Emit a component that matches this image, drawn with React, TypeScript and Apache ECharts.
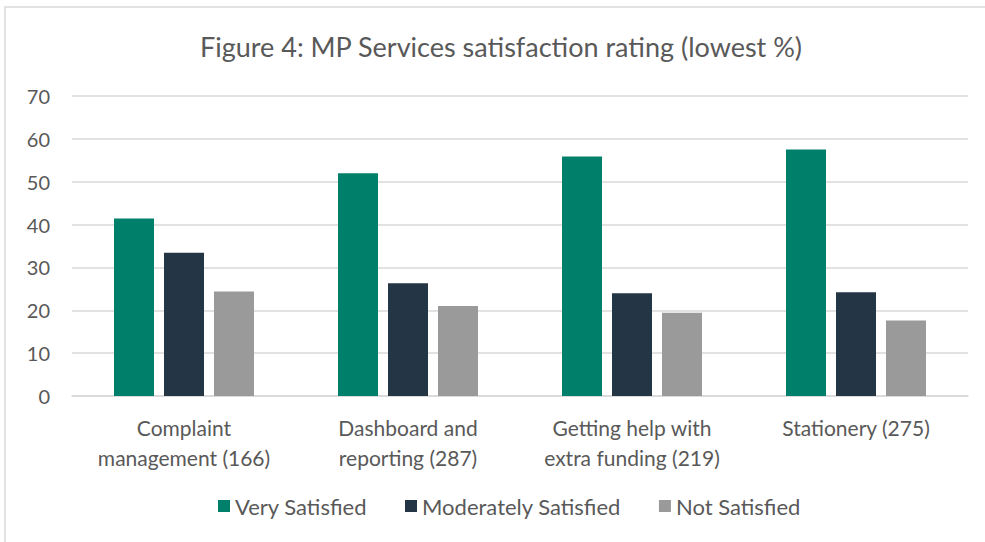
import React, { useEffect, useRef } from "react";
import * as echarts from "echarts";

const categories = ["Complaint\nmanagement (166)", "Dashboard and\nreporting (287)", "Getting help with\nextra funding (219)", "Stationery (275)"];
const seriesNames = ["Very Satisfied", "Moderately Satisfied", "Not Satisfied"];
const verySatisfied = [41.4, 52.0, 55.9, 57.5];
const moderatelySatisfied = [33.4, 26.3, 24.0, 24.2];
const notSatisfied = [24.4, 21.0, 19.4, 17.6];
const yTicks = { min: 0, max: 70, interval: 10 };
const colors = ["#00806A", "#243645", "#999A99"];

export default function App() {
  const ref = useRef<HTMLDivElement>(null);
  useEffect(() => {
    const chart = echarts.init(ref.current!, undefined, { renderer: "svg" });
    const font = "Lato, 'Open Sans', sans-serif";
    const values = [verySatisfied, moderatelySatisfied, notSatisfied];
    chart.setOption({
      animation: false,
      backgroundColor: "#ffffff",
      textStyle: { fontFamily: font },
      title: {
        text: "Figure 4: MP Services satisfaction rating (lowest %)",
        left: 195,
        top: 28,
        textStyle: { fontFamily: font, fontSize: 27, fontWeight: "normal", color: "#595959" },
      },
      graphic: [
        {
          type: "rect",
          shape: { x: 5, y: 7, width: 1000, height: 560 },
          style: { fill: "none", stroke: "#d9d9d9", lineWidth: 1.5 },
          silent: true,
        },
      ],
      legend: {
        bottom: 20,
        left: 213,
        itemWidth: 12,
        itemHeight: 12,
        itemGap: 38,
        icon: "rect",
        textStyle: { fontFamily: font, fontSize: 22, color: "#595959" },
        data: seriesNames,
      },
      grid: { left: 72, right: 17, top: 96, bottom: 146, containLabel: false },
      xAxis: {
        type: "category",
        data: categories,
        axisLine: { lineStyle: { color: "#d9d9d9", width: 1.5 } },
        axisTick: { show: false },
        axisLabel: { fontFamily: font, fontSize: 21, color: "#595959", lineHeight: 30, margin: 16, interval: 0 },
      },
      yAxis: {
        type: "value",
        min: yTicks.min,
        max: yTicks.max,
        interval: yTicks.interval,
        axisLine: { show: false },
        axisTick: { show: false },
        splitLine: { lineStyle: { color: "#d9d9d9", width: 1.5 } },
        axisLabel: { fontFamily: font, fontSize: 20, color: "#595959", margin: 22 },
      },
      series: seriesNames.map((name, i) => ({
        name,
        type: "bar",
        data: values[i],
        barWidth: 40,
        barGap: "25%",
        itemStyle: { color: colors[i] },
      })),
    });
    return () => chart.dispose();
  }, []);
  return <div ref={ref} style={{ position: "absolute", left: 0, top: 0, width: 985, height: 542 }} />;
}
